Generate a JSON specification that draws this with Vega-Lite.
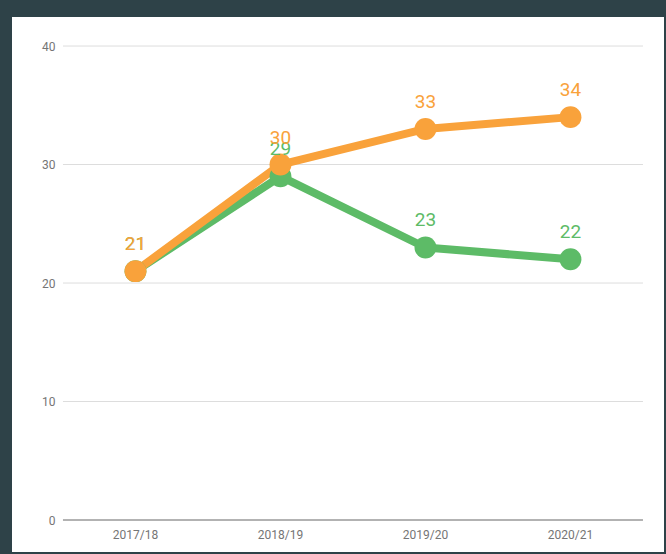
{
  "$schema": "https://vega.github.io/schema/vega-lite/v6.json",
  "autosize": "none",
  "width": 652,
  "height": 535,
  "padding": {"left": 12, "top": 17, "right": 2, "bottom": 2},
  "background": "#2e4248",
  "config": {"view": {"fill": "white", "stroke": null}, "font": "Roboto"},
  "datasets": {
    "series": [
      {"year": "2017/18", "series": "Green", "value": 21},
      {"year": "2018/19", "series": "Green", "value": 29},
      {"year": "2019/20", "series": "Green", "value": 23},
      {"year": "2020/21", "series": "Green", "value": 22},
      {"year": "2017/18", "series": "Orange", "value": 21},
      {"year": "2018/19", "series": "Orange", "value": 30},
      {"year": "2019/20", "series": "Orange", "value": 33},
      {"year": "2020/21", "series": "Orange", "value": 34}
    ],
    "grid": [{"v": 0}, {"v": 10}, {"v": 20}, {"v": 30}, {"v": 40}]
  },
  "encoding": {
    "x": {
      "field": "year", "type": "nominal", "sort": null,
      "scale": {"type": "band", "domain": ["2017/18", "2018/19", "2019/20", "2020/21"], "paddingInner": 0, "paddingOuter": 0.2483, "align": 0.708},
      "axis": {"title": null, "offset": -32, "domain": false, "ticks": false, "labelPadding": 9, "labelColor": "#757575", "labelFontSize": 12, "labelAngle": 0}
    },
    "y": {
      "field": "value", "type": "quantitative",
      "scale": {"domain": [-2.70, 42.45], "nice": false, "zero": false},
      "axis": {"title": null, "offset": -51, "domain": false, "ticks": false, "grid": false, "values": [0, 10, 20, 30, 40], "labelPadding": 8, "labelColor": "#757575", "labelFontSize": 12}
    }
  },
  "layer": [
    {
      "data": {"name": "grid"},
      "mark": {"type": "rule", "strokeWidth": 1},
      "encoding": {
        "y": {"field": "v", "type": "quantitative"},
        "x": {"datum": "2017/18", "type": "nominal", "bandPosition": 0},
        "x2": {"datum": "2020/21", "bandPosition": 1},
        "color": {"condition": {"test": "datum.v === 0", "value": "#666666"}, "value": "#dddddd"}
      }
    },
    {
      "data": {"name": "series"},
      "mark": {"type": "line", "strokeWidth": 8, "strokeJoin": "round"},
      "encoding": {
        "color": {"field": "series", "type": "nominal", "scale": {"domain": ["Green", "Orange"], "range": ["#5dbb67", "#f9a23b"]}, "legend": null}
      }
    },
    {
      "data": {"name": "series"},
      "mark": {"type": "point", "filled": true, "size": 480, "opacity": 1},
      "encoding": {
        "color": {"field": "series", "type": "nominal", "legend": null}
      }
    },
    {
      "data": {"name": "series"},
      "mark": {"type": "text", "dy": -27, "fontSize": 19},
      "encoding": {
        "text": {"field": "value", "type": "quantitative"},
        "color": {"field": "series", "type": "nominal", "legend": null}
      }
    }
  ]
}
